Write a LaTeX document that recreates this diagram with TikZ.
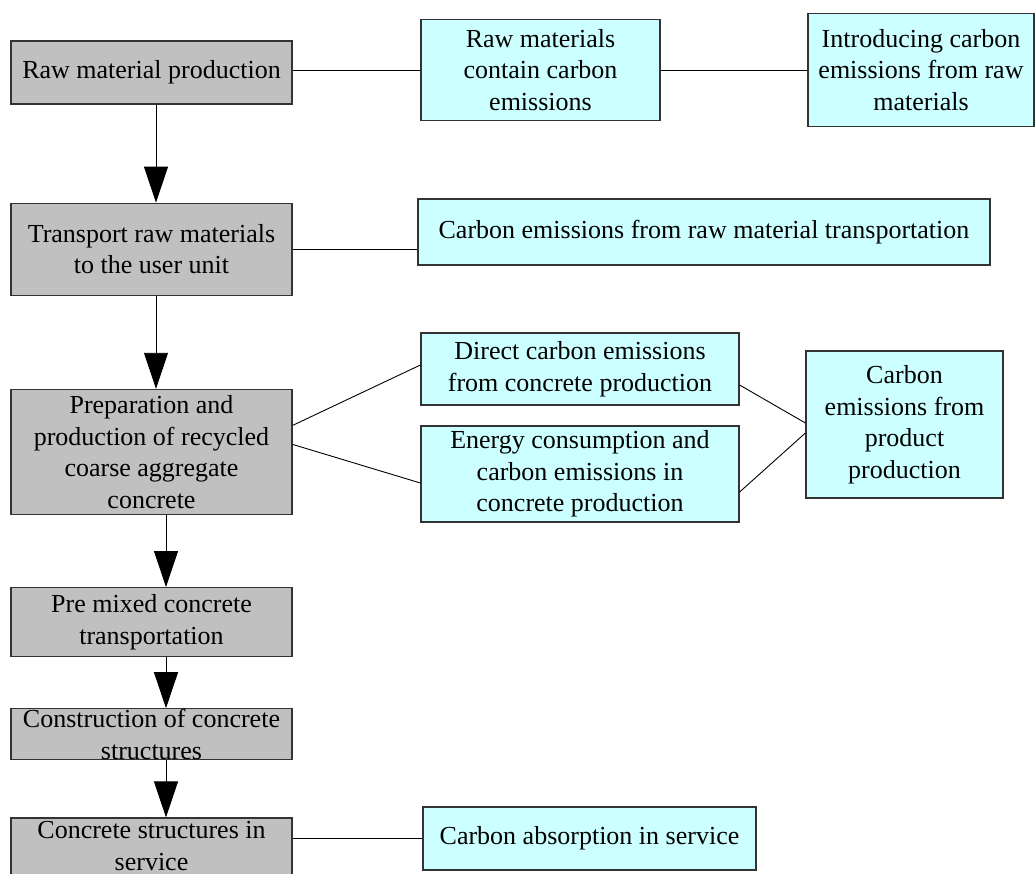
\documentclass[tikz,border=0pt]{standalone}
\usepackage{fontspec}
\setmainfont{Liberation Serif}
\usepackage{tikz}
\usetikzlibrary{arrows.meta,positioning}
\definecolor{ink}{HTML}{333333}
\definecolor{stagegray}{HTML}{C0C0C0}
\definecolor{emitcyan}{HTML}{CCFFFF}
\tikzset{
  boxtext/.style={align=center, font=\fontsize{26}{31.5}\selectfont},
  stage/.style={rectangle, draw=ink, line width=1.2pt, fill=stagegray, boxtext, minimum width=281pt, inner sep=2pt},
  emit/.style={rectangle, draw=ink, line width=1.2pt, fill=emitcyan, boxtext, inner sep=2pt},
  flow/.style={-{Triangle[length=36pt, width=24pt]}, line width=0.9pt},
  link/.style={line width=0.9pt}
}

\begin{document}
\begin{tikzpicture}[x=1pt, y=-1pt]
  \useasboundingbox (0,0) rectangle (1035,873);
  % stages of the life cycle
  \node[stage, minimum height=63pt] (rawprod) at (151.5,72.5) {Raw material production};
  \node[stage, minimum height=92pt, below=98pt of rawprod] (transport) {Transport raw materials\\to the user unit};
  \node[stage, minimum height=125pt, below=93pt of transport] (prep) {Preparation and\\production of recycled\\coarse aggregate\\concrete};
  \node[stage, minimum height=69pt, below=72pt of prep] (premix) {Pre mixed concrete\\transportation};
  \node[stage, minimum height=51pt, below=51pt of premix,
        label={[boxtext]center:{Construction of concrete\\structures}}] (build) {};
  \node[stage, minimum height=66pt, below=57pt of build,
        label={[boxtext, yshift=5pt]center:{Concrete structures in\\service}}] (service) {};
  % emission sources
  \node[emit, minimum width=239pt, minimum height=101pt] (rawcarbon) at (540.5,70) {Raw materials\\contain carbon\\emissions};
  \node[emit, minimum width=226pt, minimum height=113pt] (intro) at (921,70) {Introducing carbon\\emissions from raw\\materials};
  \node[emit, minimum width=572pt, minimum height=66pt] (transcarbon) at (704,232) {Carbon emissions from raw material transportation};
  \node[emit, minimum width=318pt, minimum height=72pt] (direct) at (580,369) {Direct carbon emissions\\from concrete production};
  \node[emit, minimum width=318pt, minimum height=96pt] (energy) at (580,474) {Energy consumption and\\carbon emissions in\\concrete production};
  \node[emit, minimum width=197pt, minimum height=147pt] (product) at (904.5,424.5) {Carbon\\emissions from\\product\\production};
  \node[emit, minimum width=333pt, minimum height=63pt] (absorb) at (589.5,838.5) {Carbon absorption in service};
  % flow down the stages
  \draw[flow] ([xshift=4.5pt]rawprod.south) -- ([xshift=4.5pt]transport.north);
  \draw[flow] ([xshift=4.5pt]transport.south) -- ([xshift=4.5pt]prep.north);
  \draw[flow] ([xshift=14.5pt]prep.south) -- ([xshift=14.5pt]premix.north);
  \draw[flow] ([xshift=14.5pt]premix.south) -- ([xshift=14.5pt]build.north);
  \draw[flow] ([xshift=14.5pt]build.south) -- ([xshift=14.5pt]service.north);
  % links to the emissions
  \draw[link] (rawcarbon.west -| rawprod.east) -- (rawcarbon.west);
  \draw[link] (rawcarbon.east) -- (intro.west);
  \draw[link] (transport.east) -- (transport.east -| transcarbon.west);
  \draw[link] ([yshift=26.5pt]prep.east) -- ([yshift=4pt]direct.west);
  \draw[link] ([yshift=7.5pt]prep.east) -- ([yshift=-9pt]energy.west);
  \draw[link] ([yshift=-16pt]direct.east) -- ([yshift=1.5pt]product.west);
  \draw[link] ([yshift=-18pt]energy.east) -- ([yshift=-8.5pt]product.west);
  \draw[link] (absorb.west -| service.east) -- (absorb.west);
\end{tikzpicture}
\end{document}
